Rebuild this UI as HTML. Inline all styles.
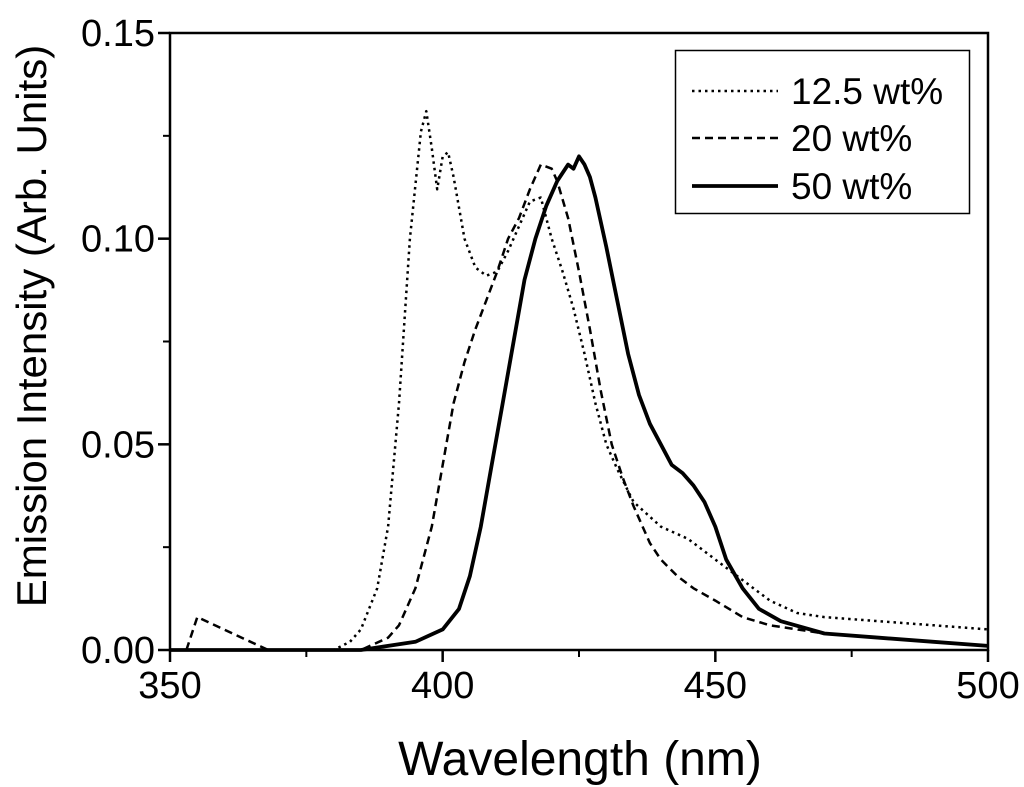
<!DOCTYPE html>
<html><head><meta charset="utf-8"><style>
html,body{margin:0;padding:0;background:#fff;}
svg{display:block;font-family:"Liberation Sans",Arial,sans-serif;}
</style></head><body>
<svg id="chart" width="1024" height="787" viewBox="0 0 1024 787">
<g id="axes"></g><g id="series"></g>
<rect x="675.5" y="50.5" width="294" height="163" fill="#fff" stroke="#000" stroke-width="1.5"/>
<line x1="692" y1="91" x2="778" y2="91" stroke="#000" stroke-width="2.5" stroke-dasharray="2.5,4"/>
<text x="791" y="104" font-size="37">12.5 wt%</text>
<line x1="692" y1="138" x2="778" y2="138" stroke="#000" stroke-width="2.5" stroke-dasharray="8,5"/>
<text x="791" y="151" font-size="37">20 wt%</text>
<line x1="692" y1="186" x2="778" y2="186" stroke="#000" stroke-width="3.8"/>
<text x="791" y="199" font-size="37">50 wt%</text>
<text x="580" y="775" font-size="48" text-anchor="middle">Wavelength (nm)</text>
<text transform="translate(46,326) rotate(-90)" font-size="42" text-anchor="middle">Emission Intensity (Arb. Units)</text>
</svg>
<script>
const xTicks=[350,400,450,500];
const yTicks=[0,0.05,0.10,0.15];
const yTickLabels=["0.00","0.05","0.10","0.15"];
const wl125=[350,380,383,385,388,390,392,394,396,397,398,399,400,401,402,404,406,408,410,412,414,416,418,420,422,424,426,428,430,432,435,440,445,450,455,460,465,470,480,490,500];
const v125=[0,0,0.002,0.005,0.015,0.03,0.06,0.1,0.126,0.131,0.122,0.112,0.12,0.121,0.115,0.1,0.093,0.091,0.092,0.097,0.103,0.109,0.11,0.1,0.092,0.083,0.072,0.06,0.05,0.044,0.036,0.03,0.027,0.022,0.017,0.012,0.009,0.008,0.007,0.006,0.005];
const wl20=[353,355,368,385,390,392,395,398,400,402,404,406,408,410,412,414,416,418,420,421,423,425,427,429,431,433,435,438,440,443,446,450,455,460,470,480,490,500];
const v20=[0,0.008,0,0,0.003,0.006,0.015,0.03,0.045,0.06,0.07,0.078,0.085,0.092,0.1,0.105,0.112,0.118,0.117,0.114,0.105,0.092,0.078,0.063,0.05,0.042,0.035,0.026,0.022,0.018,0.015,0.012,0.008,0.006,0.004,0.003,0.002,0.001];
const wl50=[350,385,395,400,403,405,407,409,411,413,415,417,419,421,423,424,425,426,427,428,430,432,434,436,438,440,442,444,446,448,450,452,455,458,462,470,480,490,500];
const v50=[0,0,0.002,0.005,0.01,0.018,0.03,0.045,0.06,0.075,0.09,0.1,0.108,0.114,0.118,0.117,0.12,0.118,0.115,0.11,0.098,0.085,0.072,0.062,0.055,0.05,0.045,0.043,0.04,0.036,0.03,0.022,0.015,0.01,0.007,0.004,0.003,0.002,0.001];

const X0=170,X1=988,Y0=650,Y1=33;
const sx=v=>X0+(v-350)/150*(X1-X0);
const sy=v=>Y0-(v/0.15)*(Y0-Y1);
const NS="http://www.w3.org/2000/svg";
const axes=document.getElementById('axes'),ser=document.getElementById('series');
function mk(tag,attrs,parent){const e=document.createElementNS(NS,tag);for(const k in attrs)e.setAttribute(k,attrs[k]);parent.appendChild(e);return e;}
const frame=mk('rect',{x:X0,y:Y1,width:X1-X0,height:Y0-Y1,fill:'none',stroke:'#000','stroke-width':2.5},axes);


xTicks.forEach((t,i)=>{
  const l=mk('line',{x1:sx(t),x2:sx(t),y1:Y0,y2:Y0+12,stroke:'#000','stroke-width':2.5},axes);
  
  
  const tx=mk('text',{x:sx(t),y:Y0+48,'font-size':38,'text-anchor':'middle'},axes);tx.textContent=t;
  
  
  if(i<xTicks.length-1){const m=mk('line',{x1:sx(t+25),x2:sx(t+25),y1:Y0,y2:Y0+7,stroke:'#000','stroke-width':2},axes);
  
  }
});
yTicks.forEach((t,i)=>{
  const l=mk('line',{x1:X0-12,x2:X0,y1:sy(t),y2:sy(t),stroke:'#000','stroke-width':2.5},axes);
  
  
  const tx=mk('text',{x:X0-15,y:sy(t)+13,'font-size':38,'text-anchor':'end'},axes);tx.textContent=yTickLabels[i];
  
  
  if(i<yTicks.length-1){const m=mk('line',{x1:X0-7,x2:X0,y1:sy(t+0.025),y2:sy(t+0.025),stroke:'#000','stroke-width':2},axes);
  
  }
});
function line(xs,ys,dash,w,name){
  const d=xs.map((x,i)=>(i?'L':'M')+sx(x).toFixed(1)+','+sy(ys[i]).toFixed(1)).join('');
  const p=mk('path',{d:d,fill:'none',stroke:'#000','stroke-width':w,'stroke-dasharray':dash,'stroke-linejoin':'round'},ser);
  
  
}
line(wl125,v125,'2.5,4',2.5,'series-12-5-wt');
line(wl20,v20,'8,5',2.5,'series-20-wt');
line(wl50,v50,'none',3.8,'series-50-wt');
</script>
</body></html>
